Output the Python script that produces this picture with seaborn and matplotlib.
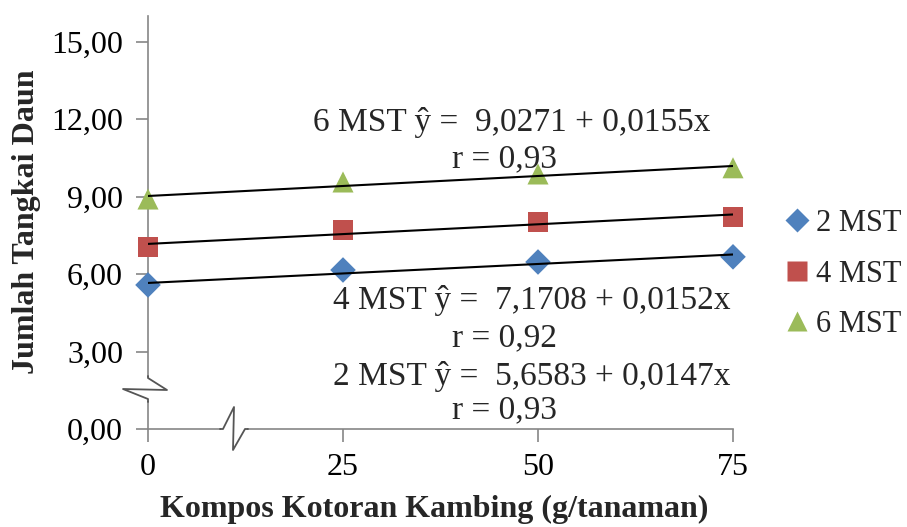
import matplotlib
matplotlib.use("Agg")
import matplotlib.pyplot as plt
import seaborn as sns
import pandas as pd
import numpy as np
from matplotlib.lines import Line2D

# Dose of goat manure compost (g/plant)
doses = [0, 25, 50, 75]
# Observation ages (weeks after planting)
series = ["2 MST", "4 MST", "6 MST"]
# Mean number of leaf stalks
leaf_2mst = [5.58, 6.16, 6.47, 6.67]
leaf_4mst = [7.05, 7.71, 8.02, 8.22]
leaf_6mst = [8.91, 9.57, 9.88, 10.12]
# Linear regression fits
intercepts = [5.6583, 7.1708, 9.0271]
slopes = [0.0147, 0.0152, 0.0155]
r_values = ["0,93", "0,92", "0,93"]
y_ticks = [0, 3, 6, 9, 12, 15]

colors = ["#4F81BD", "#C0504D", "#9BBB59"]
markers = ["D", "s", "^"]

df = pd.DataFrame({
    "dose": doses * 3,
    "leaf": leaf_2mst + leaf_4mst + leaf_6mst,
    "age": [s for s in series for _ in doses],
})

sns.set_theme(style="white")
plt.rcParams["font.family"] = ["Liberation Serif", "DejaVu Serif"]

W, H = 907, 527
fig = plt.figure(figsize=(W / 100, H / 100), dpi=100)
ax = fig.add_axes([148 / W, 1 - 429 / H, 585 / W, 413 / H])

# Regression lines
xs = np.array([doses[0], doses[-1]], dtype=float)
for b0, b1 in zip(intercepts, slopes):
    sns.lineplot(x=xs, y=b0 + b1 * xs, ax=ax, color="black", lw=1.5, zorder=4)

# Observed means
sizes = {"2 MST": 170, "4 MST": 200, "6 MST": 230}
for s, c, m in zip(series, colors, markers):
    sub = df[df["age"] == s]
    sns.scatterplot(data=sub, x="dose", y="leaf", ax=ax, color=c, marker=m,
                    s=sizes[s], edgecolor="none", zorder=3, legend=False,
                    clip_on=False)

ax.set_xlim(0, 75)
ax.set_ylim(0, 16)
ax.set_xticks(doses)
ax.set_xticklabels([str(d) for d in doses])
ax.set_yticks(y_ticks)
ax.set_yticklabels([f"{v:.2f}".replace(".", ",") for v in y_ticks])
ax.set_xlabel("")
ax.set_ylabel("")

for side in ["top", "right"]:
    ax.spines[side].set_visible(False)
for side in ["left", "bottom"]:
    ax.spines[side].set_color("#868686")
    ax.spines[side].set_linewidth(1.2)
ax.tick_params(axis="both", which="both", direction="out", length=9, width=1.2,
               color="#868686", labelsize=23, labelcolor="black")
ax.tick_params(axis="y", pad=9)
ax.tick_params(axis="x", pad=8)
ax.yaxis.set_ticks_position("left")
ax.xaxis.set_ticks_position("bottom")

# Axis break marks
def px(x, y):
    return (x / W, 1 - y / H)

tf = fig.transFigure
# y-axis break
fig.patches.append(plt.Rectangle(px(122, 401), 60 / W, 24 / H, transform=tf,
                                 facecolor="white", edgecolor="none", zorder=5))
yb = [px(148, 376), px(148, 378), px(167, 390), px(123, 389), px(148, 399), px(148, 402)]
fig.lines.append(Line2D([p[0] for p in yb], [p[1] for p in yb], transform=tf,
                        color="#555555", lw=1.3, zorder=6))
# x-axis break
fig.patches.append(plt.Rectangle(px(221, 462), 26 / W, 58 / H, transform=tf,
                                 facecolor="white", edgecolor="none", zorder=5))
xb = [px(220, 429), px(223, 429), px(234, 407), px(233, 450), px(245, 429), px(248, 429)]
fig.lines.append(Line2D([p[0] for p in xb], [p[1] for p in xb], transform=tf,
                        color="#555555", lw=1.3, zorder=6))

# Regression equations
fs = 24
eq_pos = [(333, 376, 410), (333, 301, 338), (313, 122, 159)]
for s, b0, b1, r, (xl, ye, yr) in zip(series, intercepts, slopes, r_values, eq_pos):
    eq = f"{s} ŷ =  {b0:.4f} + {b1:.4f}x".replace(".", ",")
    fig.text(xl / W, 1 - ye / H, eq, fontsize=fs, ha="left", va="center")
    fig.text(504 / W, 1 - yr / H, f"r = {r}", fontsize=fs, ha="center", va="center")

# Axis titles
fig.text(434 / W, 1 - 509 / H, "Kompos Kotoran Kambing (g/tanaman)", fontsize=23,
         fontweight="bold", ha="center", va="center")
fig.text(27 / W, 1 - 222 / H, "Jumlah Tangkai Daun", fontsize=23, fontweight="bold",
         ha="center", va="center", rotation=90)

# Legend
handles = [Line2D([], [], linestyle="none", marker=m, color=c, markersize=ms,
                  markeredgecolor="none")
           for m, c, ms in zip(markers, colors, [12, 14, 15])]
fig.legend(handles, series, loc="center left", bbox_to_anchor=(773 / W, 1 - 274 / H),
           frameon=False, fontsize=22, handletextpad=0.2, labelspacing=0.7,
           handlelength=0.8, borderpad=0.4, borderaxespad=0)

fig.savefig("out.png", dpi=100)
